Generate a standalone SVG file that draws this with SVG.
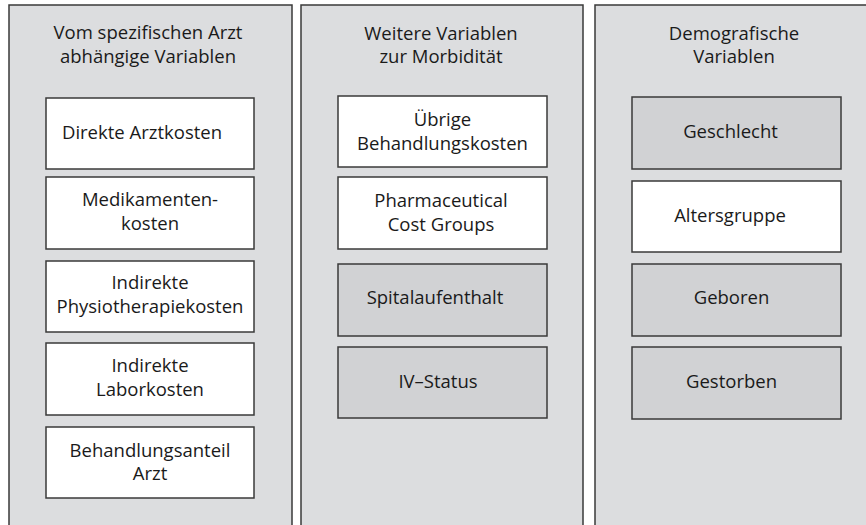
<svg xmlns="http://www.w3.org/2000/svg" width="866" height="525" viewBox="0 0 866 525">
<style>
.panel{fill:#dcdddf;stroke:#3a3a3a;stroke-width:1.5}
.box{fill:#ffffff;stroke:#3a3a3a;stroke-width:1.5}
.grey{fill:#d1d2d4}
text{font-family:"Open Sans","Noto Sans","Liberation Sans",sans-serif;font-size:18.5px;fill:#1a1a1a;text-anchor:middle}
</style>
<rect width="866" height="525" fill="#ffffff"/>
<g id="panel-arzt">
<rect class="panel" x="9" y="5" width="283" height="530"/>
<text x="148" y="39">Vom spezifischen Arzt</text>
<text x="148" y="63">abhängige Variablen</text>
</g>
<g id="panel-morbiditaet">
<rect class="panel" x="301" y="5" width="282" height="530"/>
<text x="441" y="40">Weitere Variablen</text>
<text x="441" y="63">zur Morbidität</text>
</g>
<g id="panel-demografie">
<rect class="panel" x="595" y="5" width="290" height="530"/>
<text x="734" y="40">Demografische</text>
<text x="734" y="63">Variablen</text>
</g>
<g id="connectors"></g>
<g id="n-direkte"><rect class="box" x="46" y="98" width="208" height="71"/><text x="142" y="139">Direkte Arztkosten</text></g>
<g id="n-medikamente"><rect class="box" x="46" y="177" width="208" height="72"/><text x="150" y="205.5">Medikamenten-</text><text x="150" y="230">kosten</text></g>
<g id="n-physio"><rect class="box" x="46" y="261" width="208" height="71"/><text x="150" y="289">Indirekte</text><text x="150" y="313">Physiotherapiekosten</text></g>
<g id="n-labor"><rect class="box" x="46" y="343" width="208" height="72"/><text x="150" y="372">Indirekte</text><text x="150" y="396">Laborkosten</text></g>
<g id="n-anteil"><rect class="box" x="46" y="427" width="208" height="71"/><text x="150" y="456.5">Behandlungsanteil</text><text x="150" y="480">Arzt</text></g>
<g id="n-uebrige"><rect class="box" x="338" y="96" width="209" height="71"/><text x="442.5" y="126">Übrige</text><text x="442.5" y="150">Behandlungskosten</text></g>
<g id="n-pcg"><rect class="box" x="338" y="177" width="209" height="72"/><text x="441" y="206.5">Pharmaceutical</text><text x="441" y="230.5">Cost Groups</text></g>
<g id="n-spital"><rect class="box grey" x="338" y="264" width="209" height="72"/><text x="435" y="304">Spitalaufenthalt</text></g>
<g id="n-iv"><rect class="box grey" x="338" y="347" width="209" height="71"/><text x="438" y="388">IV–Status</text></g>
<g id="n-geschlecht"><rect class="box grey" x="632" y="97" width="209" height="72"/><text x="730.5" y="138">Geschlecht</text></g>
<g id="n-alter"><rect class="box" x="632" y="181" width="209" height="71"/><text x="730" y="221.5">Altersgruppe</text></g>
<g id="n-geboren"><rect class="box grey" x="632" y="264" width="209" height="72"/><text x="731.5" y="304">Geboren</text></g>
<g id="n-gestorben"><rect class="box grey" x="632" y="347" width="209" height="72"/><text x="731.5" y="388">Gestorben</text></g>
</svg>
